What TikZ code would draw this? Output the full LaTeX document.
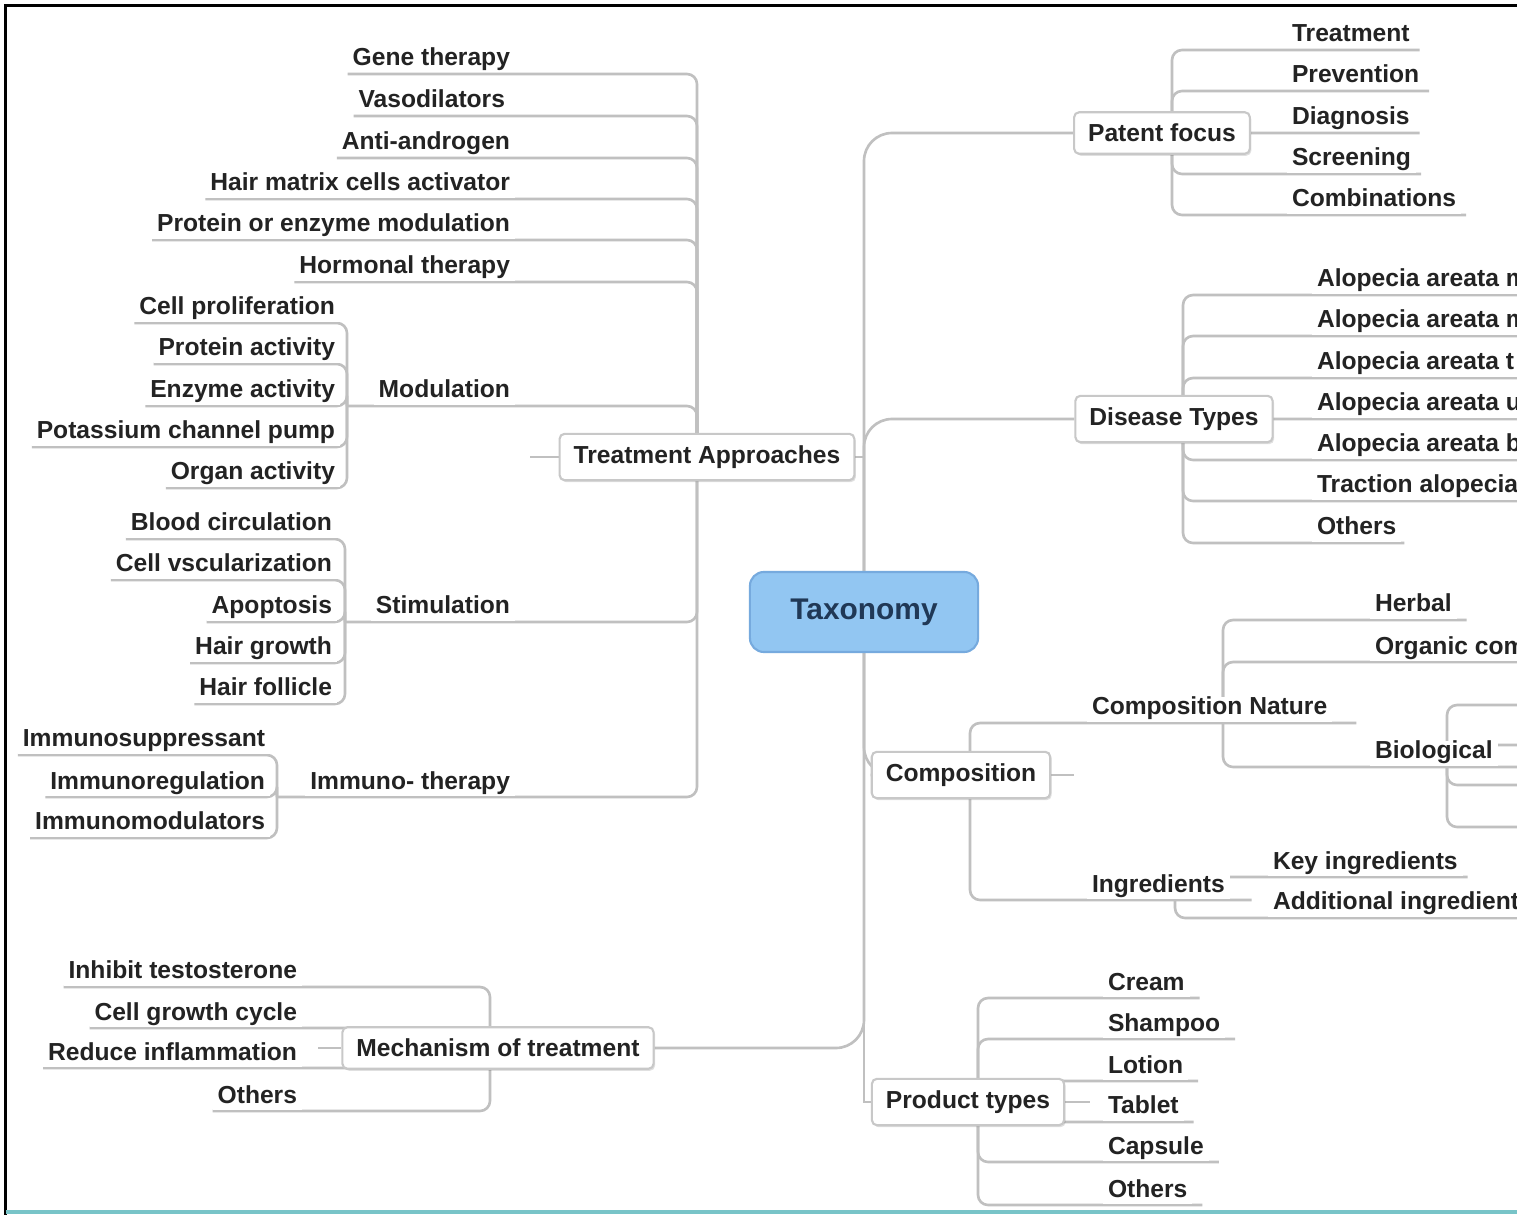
\documentclass[tikz,border=0pt]{standalone}
\usepackage{fontspec}
\setmainfont{Liberation Sans}
\usetikzlibrary{backgrounds,shadows}

\definecolor{linegray}{RGB}{192,192,192}
\definecolor{boxgray}{RGB}{200,200,200}
\definecolor{taxfill}{RGB}{146,198,242}
\definecolor{taxline}{RGB}{118,170,222}
\definecolor{taxtext}{RGB}{32,56,86}
\definecolor{inktext}{RGB}{35,35,35}
\definecolor{rimteal}{RGB}{120,196,200}

\tikzset{
  leaf/.style={font=\fontsize{7}{8}\selectfont\bfseries, text=inktext, fill=white,
    inner xsep=0.05cm, inner ysep=0pt, text height=0.18cm, text depth=0.065cm,
    outer xsep=0pt, outer ysep=0.015cm},
  topic/.style={draw=boxgray, line width=0.6pt, fill=white, rounded corners=0.05cm,
    font=\fontsize{7}{8}\selectfont\bfseries, text=inktext, inner xsep=0.14cm,
    minimum height=0.41cm,
    drop shadow={shadow xshift=0.015cm, shadow yshift=-0.02cm, fill=black, opacity=0.12}},
  root/.style={draw=taxline, line width=0.6pt, fill=taxfill, rounded corners=0.14cm,
    minimum width=2.28cm, minimum height=0.8cm,
    font=\fontsize{8.5}{10}\selectfont\bfseries, text=taxtext},
  branch/.style={draw=linegray, line width=0.75pt, rounded corners=0.1cm},
  trunk/.style={draw=linegray, line width=0.75pt, rounded corners=0.28cm},
}

\begin{document}
\begin{tikzpicture}[x=0.01cm, y=-0.01cm]
    \useasboundingbox (0,0) rectangle (1517,1215);

    % centre and main topics
    \node[root] (tax) at (864,612) {Taxonomy};
    \node[topic] (ta) at (707,457) {Treatment Approaches};
    \node[topic] (mech) at (498,1048) {Mechanism of treatment};
    \node[topic] (patent) at (1162,133) {Patent focus};
    \node[topic] (disease) at (1174,419) {Disease Types};
    \node[topic] (comp) at (961,775) {Composition};
    \node[topic] (prod) at (968,1102) {Product types};

    % hubs
    \coordinate (hta) at (697,457);
    \coordinate (hmod) at (347,406);
    \coordinate (hstim) at (345,622);
    \coordinate (himm) at (277,797);
    \coordinate (hmech) at (490,1048);
    \coordinate (hpat) at (1172,133);
    \coordinate (hdis) at (1183,419);
    \coordinate (hcomp) at (970,775);
    \coordinate (hnat) at (1223,723);
    \coordinate (hbio) at (1447,765);
    \coordinate (hing) at (1175,890);
    \coordinate (hprod) at (978,1102);
    \coordinate (tastub) at (530,457);
    \coordinate (mechstub) at (318,1048);
    \coordinate (compstub) at (1074,775);
    \coordinate (prodstub) at (1090,1102);
    \coordinate (bioa) at (1530,705);
    \coordinate (biob) at (1530,745);
    \coordinate (bioc) at (1530,785);
    \coordinate (biod) at (1530,827);

    % treatment approaches
    \node[leaf, anchor=south east] (gene) at (515,74) {Gene therapy};
    \node[leaf, anchor=south east] (vaso) at (510,116) {Vasodilators};
    \node[leaf, anchor=south east] (antia) at (515,158) {Anti-androgen};
    \node[leaf, anchor=south east] (hairm) at (515,199) {Hair matrix cells activator};
    \node[leaf, anchor=south east] (prot) at (515,240) {Protein or enzyme modulation};
    \node[leaf, anchor=south east] (horm) at (515,282) {Hormonal therapy};
    \node[leaf, anchor=south east] (modu) at (515,406) {Modulation};
    \node[leaf, anchor=south east] (stim) at (515,622) {Stimulation};
    \node[leaf, anchor=south east] (immu) at (515,797) {Immuno- therapy};

    \node[leaf, anchor=south east] (cellp) at (340,323) {Cell proliferation};
    \node[leaf, anchor=south east] (prota) at (340,364) {Protein activity};
    \node[leaf, anchor=south east] (enza) at (340,406) {Enzyme activity};
    \node[leaf, anchor=south east] (potas) at (340,447) {Potassium channel pump};
    \node[leaf, anchor=south east] (organ) at (340,488) {Organ activity};

    \node[leaf, anchor=south east] (blood) at (337,539) {Blood circulation};
    \node[leaf, anchor=south east] (cellv) at (337,580) {Cell vscularization};
    \node[leaf, anchor=south east] (apop) at (337,622) {Apoptosis};
    \node[leaf, anchor=south east] (hairg) at (337,663) {Hair growth};
    \node[leaf, anchor=south east] (hairf) at (337,704) {Hair follicle};

    \node[leaf, anchor=south east] (isup) at (270,755) {Immunosuppressant};
    \node[leaf, anchor=south east] (ireg) at (270,797) {Immunoregulation};
    \node[leaf, anchor=south east] (imod) at (270,838) {Immunomodulators};

    % mechanism
    \node[leaf, anchor=south east] (inhib) at (302,987) {Inhibit testosterone};
    \node[leaf, anchor=south east] (cgc) at (302,1028) {Cell growth cycle};
    \node[leaf, anchor=south east] (redi) at (302,1068) {Reduce inflammation};
    \node[leaf, anchor=south east] (moth) at (302,1111) {Others};

    % patent focus
    \node[leaf, anchor=south west] (ptreat) at (1287,50) {Treatment};
    \node[leaf, anchor=south west] (pprev) at (1287,91) {Prevention};
    \node[leaf, anchor=south west] (pdiag) at (1287,133) {Diagnosis};
    \node[leaf, anchor=south west] (pscr) at (1287,174) {Screening};
    \node[leaf, anchor=south west] (pcomb) at (1287,215) {Combinations};

    % disease types
    \node[leaf, anchor=south west] (dmono) at (1312,295) {Alopecia areata m};
    \node[leaf, anchor=south west] (dmult) at (1312,336) {Alopecia areata m};
    \node[leaf, anchor=south west] (dtot) at (1312,378) {Alopecia areata t};
    \node[leaf, anchor=south west] (duni) at (1312,419) {Alopecia areata u};
    \node[leaf, anchor=south west] (dbar) at (1312,460) {Alopecia areata b};
    \node[leaf, anchor=south west] (dtrac) at (1312,501) {Traction alopecia};
    \node[leaf, anchor=south west] (doth) at (1312,543) {Others};

    % composition
    \node[leaf, anchor=south west] (cnat) at (1087,723) {Composition Nature};
    \node[leaf, anchor=south west] (ingr) at (1087,900) {Ingredients};
    \node[leaf, anchor=south west] (herb) at (1370,620) {Herbal};
    \node[leaf, anchor=south west] (orgc) at (1370,662) {Organic com};
    \node[leaf, anchor=south west] (bio) at (1370,767) {Biological};
    \node[leaf, anchor=south west] (key) at (1268,877) {Key ingredients};
    \node[leaf, anchor=south west] (addi) at (1268,918) {Additional ingredient};

    % product types
    \node[leaf, anchor=south west] (cream) at (1103,998) {Cream};
    \node[leaf, anchor=south west] (shamp) at (1103,1039) {Shampoo};
    \node[leaf, anchor=south west] (lotion) at (1103,1081) {Lotion};
    \node[leaf, anchor=south west] (tablet) at (1103,1122) {Tablet};
    \node[leaf, anchor=south west] (caps) at (1103,1162) {Capsule};
    \node[leaf, anchor=south west] (poth) at (1103,1205) {Others};

    \begin{scope}[on background layer]
        \clip (0,0) rectangle (1517,1215);
        \fill[white] (0,0) rectangle (1517,1215);
        \draw[black, line width=0.035cm] (5.5,1215) -- (5.5,5.5) -- (1517,5.5);
        \draw[rimteal, line width=0.04cm] (5.5,1212) -- (1517,1212);

        % trunk
        \draw[trunk] (tax) |- (patent.west);
        \draw[trunk] (tax) |- (disease.west);
        \draw[trunk] (tax) |- (mech.east);
        \draw[trunk] (tax) |- (comp.west);
        \draw[linegray, line width=0.75pt] (tax) |- (prod.west);
        \draw[branch] (ta.east) -- (tax |- ta.east);
        \draw[branch] (ta.west) -- (tastub);
        \draw[branch] (mech.west) -- (mechstub);
        \draw[branch] (comp.east) -- (compstub);
        \draw[branch] (prod.east) -- (prodstub);

        % left side
        \foreach \n in {gene,vaso,antia,hairm,prot,horm}
            \draw[branch] (hta) |- (\n.south west);
        \draw[branch] (hta) |- (hmod);
        \draw[branch] (hta) |- (hstim);
        \draw[branch] (hta) |- (himm);
        \foreach \n in {cellp,prota,enza,potas,organ}
            \draw[branch] (hmod) |- (\n.south west);
        \foreach \n in {blood,cellv,apop,hairg,hairf}
            \draw[branch] (hstim) |- (\n.south west);
        \foreach \n in {isup,ireg,imod}
            \draw[branch] (himm) |- (\n.south west);
        \foreach \n in {inhib,cgc,redi,moth}
            \draw[branch] (hmech) |- (\n.south west);

        % right side
        \foreach \n in {ptreat,pprev,pdiag,pscr,pcomb}
            \draw[branch] (hpat) |- ([xshift=0.05cm]\n.south east);
        \foreach \n in {dmono,dmult,dtot,duni,dbar,dtrac,doth}
            \draw[branch] (hdis) |- ([xshift=0.03cm]\n.south east);
        \draw[branch] (hcomp) |- ([xshift=0.24cm]cnat.south east);
        \draw[branch] (hcomp) |- ([xshift=0.22cm]ingr.south east);
        \draw[branch] (hnat) |- ([xshift=0.1cm]herb.south east);
        \draw[branch] (hnat) |- (orgc.south east);
        \draw[branch] (hnat) |- ([xshift=0.3cm]bio.south east);
        \foreach \n in {bioa,biob,bioc,biod}
            \draw[branch] (hbio) |- (\n);
        \draw[branch] (hing) |- ([xshift=0.05cm]key.south east);
        \draw[branch] (hing) |- (addi.south east);
        \foreach \n in {cream,shamp,lotion,tablet,caps,poth}
            \draw[branch] (hprod) |- ([xshift=0.1cm]\n.south east);
    \end{scope}

    \clip (0,0) rectangle (1517,1215);
\end{tikzpicture}
\end{document}
